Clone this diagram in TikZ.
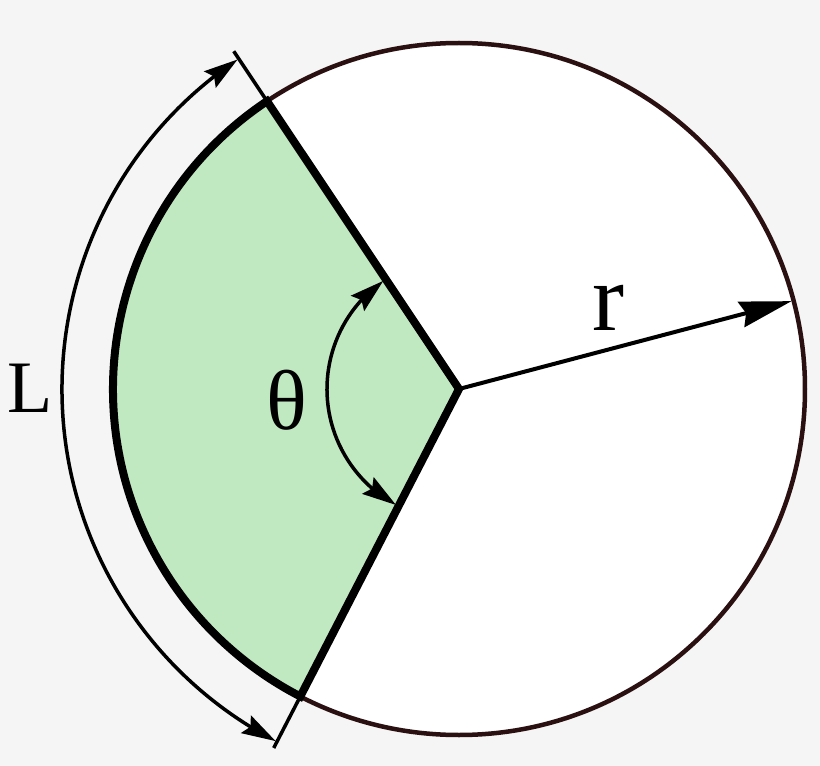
\documentclass[tikz,border=0pt]{standalone}
\usepackage{fontspec}
\setmainfont{Liberation Serif}
\usetikzlibrary{arrows.meta,bending}
\definecolor{bgc}{HTML}{F5F5F5}
\definecolor{sectorc}{HTML}{C1E9C1}
\definecolor{rimc}{HTML}{2A1010}
\begin{document}
\begin{tikzpicture}[x=1pt,y=1pt,
  thinline/.style={line width=3.5pt,black},
  bigtip/.style={-{Stealth[length=52pt,width=26pt,inset=5pt]}},
  midtip/.style={{Stealth[length=34pt,width=20pt,inset=5pt,flex]}-{Stealth[length=34pt,width=20pt,inset=5pt,flex]}},
  lbl/.style={inner sep=0pt,anchor=center}]
\fill[bgc] (-459,-377) rectangle (361,389);
\useasboundingbox (-459,-377) rectangle (361,389);
\coordinate (O) at (0,0);
\coordinate (A) at (123.7:346);
\coordinate (B) at (242.7:346);
\coordinate (At) at (123.7:406);
\coordinate (Bt) at (242.7:404);
\coordinate (R) at (14.8:344);
% circle
\draw[rimc,fill=white,line width=4.5pt] (O) circle (346);
% sector
\draw[fill=sectorc,line width=8pt,line join=miter] (O) -- (A) arc[start angle=123.7,end angle=242.7,radius=346] -- cycle;
% ticks
\draw[thinline] (A) -- (At);
\draw[thinline] (B) -- (Bt);
% radius arrow
\draw[line width=4pt,bigtip] (O) -- (R);
% L arc
\draw[thinline,midtip] (123.9:397) arc[start angle=123.9,end angle=242.5,radius=397];
% theta arc
\draw[thinline,midtip] (125:132) arc[start angle=125,end angle=241.5,radius=132];
% labels
\node[lbl,font=\fontsize{74}{74}\selectfont] (Ll) at (-429,1) {L};
\node[lbl,font=\fontsize{85}{85}\selectfont] (Tl) at (-172,-11) {θ};
\node[lbl,font=\fontsize{96}{96}\selectfont] (Rl) at (149,81) {r};
\end{tikzpicture}
\end{document}
